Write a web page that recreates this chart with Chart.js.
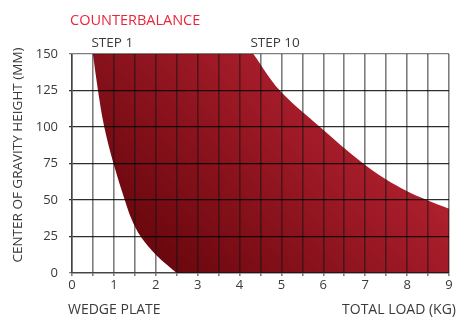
<!DOCTYPE html>
<html>
<head>
<meta charset="utf-8">
<script src="https://cdn.jsdelivr.net/npm/chart.js@4.4.0/dist/chart.umd.min.js"></script>
<style>
  html, body { margin: 0; padding: 0; background: #fff; }
  #wrap { width: 458px; height: 318px; }
</style>
</head>
<body>
<div id="wrap"><canvas id="chart"></canvas></div>
<script>
// edges of the red band: height (mm) -> load (kg)
const step1Height = [0, 12, 25, 37, 50, 75, 100, 125, 150];
const step1Load = [2.5, 2.02, 1.64, 1.42, 1.26, 0.99, 0.77, 0.62, 0.5];

const step10Height = [44, 50, 56, 64, 75, 100, 125, 150];
const step10Load = [9, 8.47, 8, 7.5, 6.95, 5.92, 4.96, 4.33];

const yTicks = [0, 25, 50, 75, 100, 125, 150];
const xTickLabels = ['0', '1', '2', '3', '4', '5', '6', '7', '8', '9'];
const xMax = 9;
const yMax = 150;

const chartTitle = 'COUNTERBALANCE';
const step1Label = 'STEP 1';
const step10Label = 'STEP 10';
const yTitle = 'CENTER OF GRAVITY HEIGHT (MM)';
const xTitleLeft = 'WEDGE PLATE';
const xTitleRight = 'TOTAL LOAD (KG)';

const FONT = '"Open Sans", "DejaVu Sans", sans-serif';
const TEXT = '#3a3a3a';

function toPoints(xs, ys) {
  return xs.map((x, i) => ({ x: x, y: ys[i] }));
}

// the band colour sits behind the datasets; the white fills cut out the curves
const bandPlugin = {
  id: 'band',
  beforeDatasetsDraw(chart) {
    const ctx = chart.ctx;
    const a = chart.chartArea;
    const w = a.right - a.left;
    const h = a.bottom - a.top;
    const g = ctx.createLinearGradient(
      a.left + w * 0.15, a.bottom + h * 0.12,
      a.left + w * 0.68, a.top + h * 0.2
    );
    g.addColorStop(0, '#5c0207');
    g.addColorStop(1, '#ad1f2d');
    ctx.save();
    ctx.fillStyle = g;
    ctx.fillRect(a.left, a.top, w, h);
    ctx.restore();
  }
};

const labelsPlugin = {
  id: 'labels',
  afterDraw(chart) {
    const ctx = chart.ctx;
    const xs = chart.scales.x;
    ctx.save();
    ctx.textBaseline = 'alphabetic';

    ctx.fillStyle = '#e8263b';
    ctx.font = '14.5px ' + FONT;
    ctx.textAlign = 'left';
    ctx.fillText(chartTitle, 70, 25);

    ctx.fillStyle = TEXT;
    ctx.font = '13.5px ' + FONT;
    ctx.fillText(step1Label, xs.getPixelForValue(step1Load[step1Load.length - 1]) - 1.5, 47);
    ctx.fillText(step10Label, xs.getPixelForValue(step10Load[step10Load.length - 1]) - 3, 47);

    ctx.font = '14px ' + FONT;
    ctx.fillText(xTitleLeft, 68, 314);
    ctx.textAlign = 'right';
    ctx.fillText(xTitleRight, 456, 314);

    ctx.font = '13.5px ' + FONT;
    ctx.translate(22, 155);
    ctx.rotate(-Math.PI / 2);
    ctx.textAlign = 'center';
    ctx.fillText(yTitle, 0, 0);
    ctx.restore();
  }
};

const gridColor = 'rgba(20,20,20,0.55)';

new Chart(document.getElementById('chart'), {
  type: 'line',
  data: {
    datasets: [
      {
        label: step1Label,
        indexAxis: 'y',
        data: toPoints(step1Load, step1Height),
        borderColor: 'transparent',
        borderWidth: 0,
        pointRadius: 0,
        cubicInterpolationMode: 'monotone',
        backgroundColor: '#ffffff',
        fill: 'origin'
      },
      {
        label: step10Label,
        indexAxis: 'y',
        data: toPoints(step10Load, step10Height),
        borderColor: 'transparent',
        borderWidth: 0,
        pointRadius: 0,
        cubicInterpolationMode: 'monotone',
        backgroundColor: '#ffffff',
        fill: { value: xMax }
      }
    ]
  },
  options: {
    responsive: true,
    maintainAspectRatio: false,
    animation: false,
    layout: { padding: { top: 54, right: 9, left: 0, bottom: 0 } },
    plugins: {
      legend: { display: false },
      tooltip: { enabled: false }
    },
    scales: {
      x: {
        type: 'linear',
        min: 0,
        max: xMax,
        afterFit(scale) { scale.height = 45; },
        border: { color: gridColor, width: 1.6, z: 1 },
        grid: {
          color: gridColor,
          lineWidth: 1.6,
          tickLength: 3,
          z: 1
        },
        ticks: {
          stepSize: 0.5,
          autoSkip: false,
          maxRotation: 0,
          padding: 1,
          color: TEXT,
          font: { family: FONT, size: 13 },
          callback: (v) => Number.isInteger(v) ? xTickLabels[v] : ''
        }
      },
      y: {
        type: 'linear',
        min: 0,
        max: yMax,
        afterFit(scale) { scale.width = 72; },
        afterBuildTicks(scale) { scale.ticks = yTicks.map(v => ({ value: v })); },
        border: { color: gridColor, width: 1.6, z: 1 },
        grid: {
          color: (c) => (c.tick && (c.tick.value === yMax || c.tick.value === 0)) ? gridColor : 'rgba(0,0,0,0.82)',
          lineWidth: 1.3,
          tickLength: 3,
          z: 1
        },
        ticks: {
          padding: 11,
          color: TEXT,
          font: { family: FONT, size: 13 }
        }
      }
    }
  },
  plugins: [bandPlugin, labelsPlugin]
});
</script>
</body>
</html>
